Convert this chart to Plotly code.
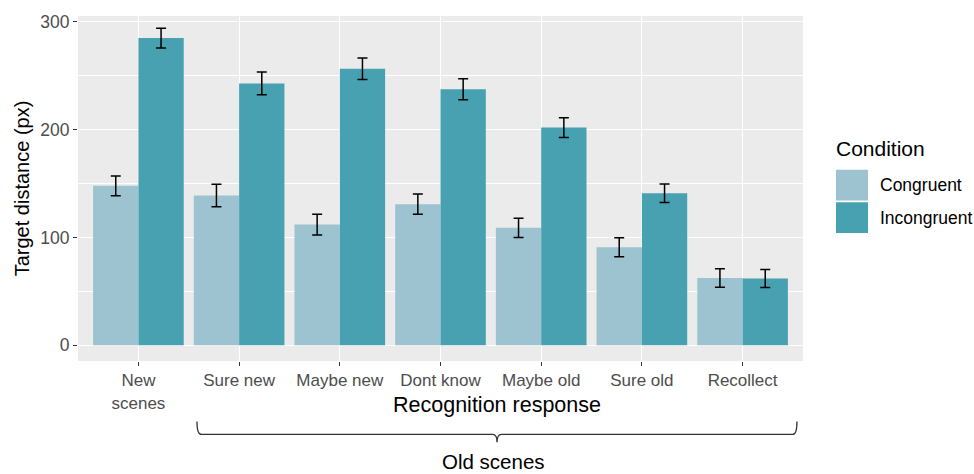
import plotly.graph_objects as go

categories = ["New<br>scenes", "Sure new", "Maybe new", "Dont know", "Maybe old", "Sure old", "Recollect"]
congruent = [148, 139, 112, 131, 109, 91, 62.5]
congruent_err = [9.2, 10.4, 9.7, 9.4, 9.0, 8.9, 8.6]
incongruent = [285, 243, 256.5, 237.5, 202, 141, 62]
incongruent_err = [9.2, 10.5, 10.0, 9.7, 9.1, 8.6, 8.4]
series_names = ["Congruent", "Incongruent"]
colors = ["#9dc3d0", "#48a1b1"]

FONT = "Liberation Sans, Arial, sans-serif"

fig = go.Figure()
for name, vals, errs, col in zip(series_names, [congruent, incongruent],
                                 [congruent_err, incongruent_err], colors):
    fig.add_trace(go.Bar(
        x=categories, y=vals, name=name, marker=dict(color=col, line=dict(width=0)),
        error_y=dict(type="data", array=errs, visible=True, color="black",
                     thickness=1.5, width=5),
        showlegend=False,
    ))

fig.update_layout(
    width=974, height=474,
    margin=dict(l=78, r=171, t=13, b=113),
    paper_bgcolor="white", plot_bgcolor="#ebebeb",
    barmode="group", bargap=0.1, bargroupgap=0,
    font=dict(family=FONT, color="#4d4d4d", size=17),
)
fig.update_xaxes(
    range=[-0.6, 6.6], showgrid=True, gridcolor="white", gridwidth=1.4,
    ticks="outside", ticklen=4, tickcolor="#333333", tickwidth=1,
    tickfont=dict(size=17, color="#4d4d4d"), zeroline=False,
)
fig.update_yaxes(
    range=[-14.5, 305.5], tickvals=[0, 100, 200, 300], showgrid=True,
    gridcolor="white", gridwidth=1.4, zeroline=False,
    ticks="outside", ticklen=4, tickcolor="#333333", tickwidth=1,
    tickfont=dict(size=17.5, color="#4d4d4d"),
    minor=dict(tickvals=[50, 150, 250], showgrid=True, gridcolor="white", gridwidth=0.7, ticks=""),
    title=dict(text="Target distance (px)", font=dict(size=20, color="black"), standoff=5),
)

# X axis title
fig.add_annotation(xref="paper", yref="paper", x=0.578, y=-0.1264, text="Recognition response",
                   showarrow=False, font=dict(size=21.5, color="black"),
                   xanchor="center", yanchor="middle")

# Bracket under old-scene categories
L, R, M = 0.1641, 0.9917, 0.578
yt, yb, ytip = -0.175, -0.2126, -0.2356
d = 0.006
path = (f"M {L},{yt} Q {L},{yb} {L+d},{yb} L {M-d},{yb} Q {M},{yb} {M},{ytip} "
        f"Q {M},{yb} {M+d},{yb} L {R-d},{yb} Q {R},{yb} {R},{yt}")
fig.add_shape(type="path", xref="paper", yref="paper", path=path,
              line=dict(color="#333333", width=1.3))
fig.add_annotation(xref="paper", yref="paper", x=0.573, y=-0.291, text="Old scenes",
                   showarrow=False, font=dict(size=20.5, color="black"),
                   xanchor="center", yanchor="middle")

# Legend (manual)
fig.add_annotation(xref="paper", yref="paper", x=1.0455, y=0.6149, text="Condition",
                   showarrow=False, font=dict(size=21, color="black"),
                   xanchor="left", yanchor="middle", xshift=-2)
key_rows = [(0.5546, 0.4655), (0.4598, 0.3707)]
for (y1, y0), name, col in zip(key_rows, series_names, colors):
    fig.add_shape(type="rect", xref="paper", yref="paper", x0=1.0455, x1=1.0897,
                  y0=y0, y1=y1, fillcolor=col, line=dict(width=0))
    fig.add_annotation(xref="paper", yref="paper", x=1.1062, y=(y0 + y1) / 2, text=name,
                       showarrow=False, font=dict(size=17.5, color="black"),
                       xanchor="left", yanchor="middle", xshift=-2)

fig.write_html("out.html", config={"displayModeBar": False},
               post_script="document.body.style.margin='0';")
